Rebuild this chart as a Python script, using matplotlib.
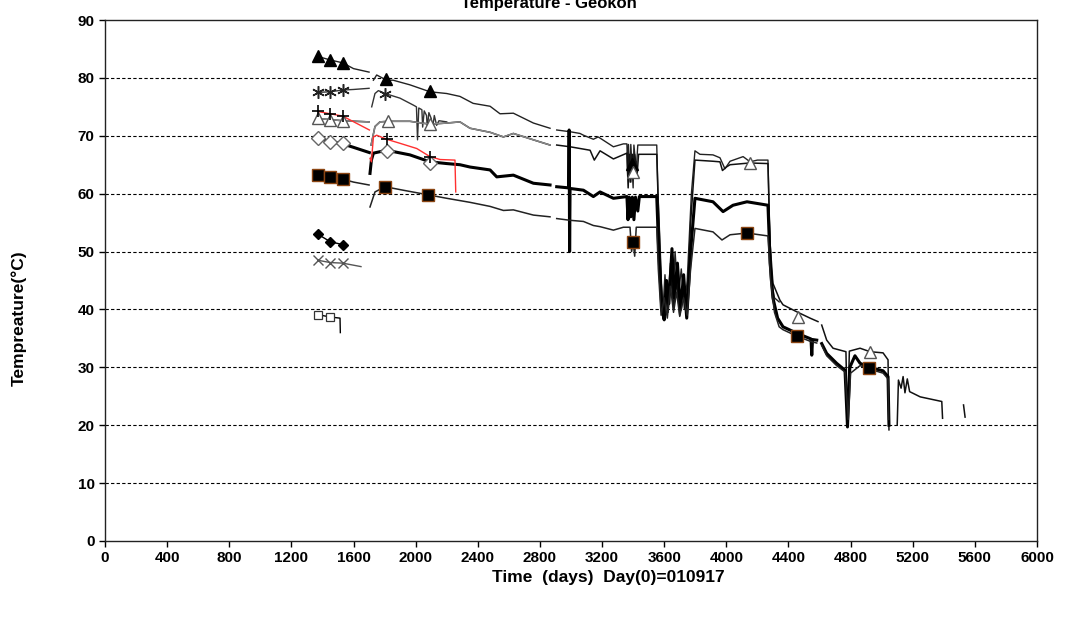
import matplotlib
matplotlib.use("Agg")
import matplotlib.pyplot as plt
import numpy as np

plt.rcParams['font.family'] = ['Liberation Sans', 'DejaVu Sans']
nan = np.nan

# ---- veri ----
# dolu ucgen - ust cizgi
tri_days = [1370, 1450, 1530, 1600, 1700, nan,
            1728, 1749, 1813, 1855, 1963, 2092, 2200, 2285, 2370, 2479, 2543, 2629, 2758, 2865, nan,
            2908, 2994, 3058, 3080, 3144, 3175, 3187, 3273, 3337, 3360, 3365, 3370, 3380, 3385, 3400,
            3405, 3420, 3430, 3552, 3560, 3575, 3590, 3605, 3620, 3640, 3655, 3670, 3690, 3710, 3730,
            3748, 3775, 3798, 3830, 3914, 3959, 3991, 4024, 4108, 4153, 4200, 4268, 4278, 4290, 4310, 4340]
tri_temp = [83.7, 83.1, 82.6, 81.6, 81.0, nan,
            79.6, 80.5, 79.6, 79.6, 78.8, 77.6, 77.3, 76.8, 75.6, 75.1, 73.8, 73.9, 72.2, 71.3, nan,
            71.0, 70.7, 70.4, 70.1, 69.4, 69.8, 69.6, 68.1, 68.6, 68.6, 63.0, 68.5, 62.0, 68.5, 61.0,
            68.4, 64.0, 68.4, 68.4, 60.0, 50.0, 39.0, 46.0, 40.0, 48.0, 41.0, 50.0, 42.0, 47.0, 40.0,
            45.0, 60.0, 67.4, 66.8, 66.7, 66.2, 64.3, 65.6, 66.4, 65.5, 65.8, 65.8, 55.0, 45.0, 42.0, 41.3]
tri_mdays = [1370, 1450, 1530, 1810, 2092, 3395]
tri_mtemp = [83.7, 83.1, 82.6, 79.8, 77.8, 65.2]

# yildiz
ast_days = [1370, 1450, 1530, 1600, 1700, nan,
            1717, 1738, 1760, 1803, 1899, 1985, 2005, 2012, 2020, 2040, 2045, 2055, 2070, 2075,
            2085, 2100, 2110, 2120, 2135, 2150, 2200]
ast_temp = [77.5, 77.6, 77.9, 78.0, 78.2, nan,
            75.0, 77.3, 77.8, 77.3, 76.5, 75.3, 75.0, 69.3, 74.8, 74.5, 71.5, 74.3, 73.5, 71.3,
            74.0, 73.0, 71.5, 73.5, 71.8, 72.6, 72.4]
ast_mdays = [1370, 1450, 1530, 1803]
ast_mtemp = [77.5, 77.6, 77.9, 77.3]

# bos ucgen - ikinci cizgi
otri_days = [1370, 1450, 1530, 1700, nan,
             1713, 1738, 1770, 1824, 1963, 2092, 2200, 2285, 2350, 2479, 2565, 2629, 2758, 2865, nan,
             2908, 2994, 3123, 3150, 3187, 3273, 3360, 3368, 3375, 3385, 3395, 3400, 3410, 3425, 3435,
             3552, 3562, 3580, 3593, 3610, 3625, 3645, 3660, 3680, 3700, 3720, 3745, 3770, 3798, 3914,
             3959, 3975, 4000, 4024, 4108, 4150, 4268, 4280, 4300, 4345, 4365, 4453, 4539, 4590, nan,
             4614, 4646, 4687, 4770, 4780, 4792, 4861, 4925, 5009, 5041, 5047, nan,
             5100, 5108, 5125, 5138, 5150, 5165, 5180, 5203, 5248, 5387, 5392, nan, 5527, 5537]
otri_temp = [73.0, 72.8, 72.6, 72.4, nan,
             68.4, 71.6, 72.4, 72.5, 72.5, 72.0, 72.2, 72.4, 71.3, 70.6, 69.8, 70.4, 69.3, 68.4, nan,
             68.4, 68.1, 67.5, 65.8, 67.4, 66.0, 67.0, 61.0, 66.8, 62.0, 66.8, 63.8, 66.8, 63.0, 66.8,
             66.8, 58.0, 45.0, 38.5, 44.0, 39.5, 47.0, 40.0, 45.0, 39.0, 44.0, 39.5, 55.0, 65.8, 65.6,
             65.5, 64.0, 64.6, 65.0, 65.2, 65.3, 65.2, 52.0, 44.5, 41.6, 40.8, 39.6, 38.5, 37.9, nan,
             37.3, 34.7, 33.3, 32.7, 20.0, 32.8, 33.3, 32.7, 32.5, 31.3, 19.2, nan,
             20.0, 27.8, 26.4, 28.4, 25.6, 28.0, 25.8, 25.5, 24.9, 24.1, 21.2, nan, 23.5, 21.4]
otri_mdays = [1370, 1450, 1530, 1824, 2092, 3400, 4150, 4462, 4925]
otri_mtemp = [73.0, 72.8, 72.6, 72.5, 72.0, 63.8, 65.3, 38.7, 32.6]

# bos karo - kalin cizgi
dia_days = [1370, 1450, 1530, 1600, 1702, nan,
            1706, 1715, 1728, 1813, 1963, 2092, 2200, 2285, 2350, 2479, 2522, 2629, 2758, 2865, nan,
            2908, 2985, 2988, 2991, 2994, 3080, 3144, 3187, 3273, 3360, 3367, 3375, 3385, 3395, 3405,
            3415, 3430, 3440, 3552, 3565, 3585, 3600, 3615, 3630, 3650, 3665, 3685, 3705, 3725, 3745,
            3770, 3798, 3914, 3979, 4043, 4133, 4268, 4282, 4300, 4330, 4365, 4453, 4545, 4550, 4555,
            4582, nan, 4614, 4646, 4710, 4764, 4780, 4795, 4828, 4861, 4920, 5009, 5041, 5047]
dia_temp = [69.6, 69.0, 68.6, 68.0, 67.1, nan,
            63.5, 65.8, 67.0, 67.5, 66.7, 65.5, 65.2, 65.0, 64.6, 64.1, 62.9, 63.2, 61.8, 61.5, nan,
            61.2, 61.0, 71.0, 50.0, 60.9, 60.6, 59.5, 60.3, 59.2, 59.5, 55.5, 59.4, 56.0, 59.4, 55.5,
            59.4, 57.0, 59.5, 59.5, 50.0, 40.0, 38.2, 45.0, 41.0, 50.5, 42.0, 48.0, 40.0, 46.0, 38.5,
            50.0, 59.2, 58.6, 56.9, 58.0, 58.6, 58.0, 48.0, 42.0, 38.5, 37.0, 35.9, 34.9, 32.1, 34.8,
            34.7, nan, 34.1, 32.4, 30.7, 29.5, 19.7, 30.0, 32.0, 30.7, 30.0, 29.4, 28.4, 20.0]
dia_mdays = [1370, 1450, 1530, 1813, 2092]
dia_mtemp = [69.6, 69.0, 68.7, 67.3, 65.3]

# dolu kare
sq_days = [1370, 1450, 1530, 1600, 1700, nan,
           1706, 1738, 1803, 1919, 2080, 2200, 2350, 2479, 2565, 2629, 2758, 2865, nan,
           2908, 2994, 3080, 3144, 3187, 3273, 3337, 3380, 3390, 3400, 3410, 3420, 3552, 3562, 3580,
           3600, 3620, 3640, 3660, 3680, 3700, 3725, 3748, 3770, 3798, 3914, 3972, 4024, 4133, 4268,
           4285, 4310, 4340, 4365, 4453, 4540, 4582, nan, 4614, 4646, 4710, 4764, 4785, 4800, 4861,
           4920, 5009, 5041, 5045]
sq_temp = [63.2, 62.8, 62.5, 62.0, 61.5, nan,
           57.7, 60.3, 61.2, 60.6, 59.8, 59.2, 58.5, 57.8, 57.1, 57.2, 56.3, 56.0, nan,
           55.7, 55.4, 55.2, 54.5, 54.3, 53.7, 54.2, 54.2, 50.0, 51.7, 49.2, 54.2, 54.2, 47.0, 39.0,
           42.0, 38.5, 44.0, 39.5, 43.0, 38.8, 42.0, 39.0, 47.0, 54.0, 53.4, 52.0, 52.9, 53.2, 52.7,
           45.0, 39.5, 37.0, 36.5, 35.4, 34.5, 34.2, nan, 33.8, 32.0, 30.3, 29.2, 21.0, 29.0, 30.3,
           29.7, 29.0, 28.0, 21.0]
sq_mdays = [1370, 1450, 1530, 1803, 2080, 3400, 4133, 4453, 4920]
sq_mtemp = [63.2, 62.8, 62.5, 61.2, 59.8, 51.7, 53.2, 35.4, 29.8]

# arti - kirmizi cizgi
plus_days = [1370, 1450, 1530, 1702, nan, 1706, 1715, 1728, 1749, 1813, 1899, 2007, 2092, 2157, 2253, 2258]
plus_temp = [74.2, 73.8, 73.4, 71.0, nan, 66.1, 65.5, 69.8, 70.1, 69.4, 68.7, 67.8, 66.4, 65.9, 65.8, 60.3]
plus_mdays = [1370, 1450, 1530, 1813, 2092]
plus_mtemp = [74.2, 73.8, 73.4, 69.5, 66.4]

# alt uc seri (sadece ilk donem)
fdia_days = [1370, 1450, 1530]
fdia_temp = [53.0, 51.7, 51.2]
x_days = [1370, 1450, 1530, 1648]
x_temp = [48.5, 48.1, 48.0, 47.4]
osq_days = [1370, 1450, 1480, 1513, 1515]
osq_temp = [39.1, 38.7, 38.6, 38.5, 36.0]
osq_mdays = [1370, 1450]
osq_mtemp = [39.1, 38.7]

x_ticks = list(range(0, 6001, 400))
y_ticks = list(range(0, 91, 10))

# ---- grafik ----
fig = plt.figure(figsize=(10.65, 6.17), dpi=100)
ax = fig.add_axes([105 / 1065, 76 / 617, 932 / 1065, 521 / 617])

for yv in y_ticks[1:-1]:
    ax.axhline(yv, color='black', lw=0.8, ls=(0, (3, 2)), zorder=1)

ax.plot(tri_days, tri_temp, color='#222222', lw=1.0, zorder=3)
ax.plot(ast_days, ast_temp, color='#333333', lw=1.0, zorder=3)
ax.plot(otri_days, otri_temp, color='#111111', lw=1.1, zorder=3)
ax.plot(otri_days[:20], otri_temp[:20], color='#888888', lw=1.1, zorder=3)
ax.plot(dia_days, dia_temp, color='black', lw=2.2, zorder=3)
ax.plot(sq_days, sq_temp, color='#222222', lw=1.1, zorder=3)
ax.plot(plus_days, plus_temp, color='#ff3030', lw=1.0, zorder=4)
ax.plot(fdia_days, fdia_temp, color='black', lw=1.0, zorder=3)
ax.plot(x_days, x_temp, color='#555555', lw=1.0, zorder=3)
ax.plot(osq_days, osq_temp, color='black', lw=1.0, zorder=3)

ax.plot(tri_mdays, tri_mtemp, ls='none', marker='^', ms=8, color='black', zorder=5)
ax.plot(ast_mdays, ast_mtemp, ls='none', marker=(6, 2, 0), ms=9, color='#222222', mew=1.1, zorder=5)
ax.plot(otri_mdays, otri_mtemp, ls='none', marker='^', ms=8, mfc='white', mec='#555555', mew=1.0, zorder=5)
ax.plot(dia_mdays, dia_mtemp, ls='none', marker='D', ms=7, mfc='white', mec='#666666', mew=1.0, zorder=5)
ax.plot(sq_mdays, sq_mtemp, ls='none', marker='s', ms=8, mfc='black', mec='#8b4513', mew=1.0, zorder=5)
ax.plot(plus_mdays, plus_mtemp, ls='none', marker='+', ms=9, color='black', mew=1.2, zorder=5)
ax.plot(fdia_days, fdia_temp, ls='none', marker='D', ms=5, color='black', zorder=5)
ax.plot(x_days[:3], x_temp[:3], ls='none', marker='x', ms=7, color='#555555', mew=1.0, zorder=5)
ax.plot(osq_mdays, osq_mtemp, ls='none', marker='s', ms=6, mfc='white', mec='#333333', mew=0.9, zorder=5)

ax.set_xlim(0, 6000)
ax.set_ylim(0, 90)
ax.set_xticks(x_ticks)
ax.set_yticks(y_ticks)
ax.tick_params(labelsize=11, length=4, width=1, direction='out')
for lab in ax.get_xticklabels() + ax.get_yticklabels():
    lab.set_fontweight('bold')
for sp in ax.spines.values():
    sp.set_linewidth(1.0)
    sp.set_color('#222222')

ax.set_xlabel("Time  (days)  Day(0)=010917", fontsize=12.5, fontweight='bold')
ax.xaxis.set_label_coords((608 - 105) / 932, -(570 - 541) / 521)
ax.set_ylabel("Tempreature(°C)", fontsize=12.5, fontweight='bold')
ax.yaxis.set_label_coords(-(105 - 27) / 932, (541 - 318) / 521)
fig.text(549 / 1065, 1 - 8 / 617, "Temperature - Geokon", ha='center', va='baseline',
         fontsize=12, fontweight='bold')

fig.savefig("out.png", dpi=100)
